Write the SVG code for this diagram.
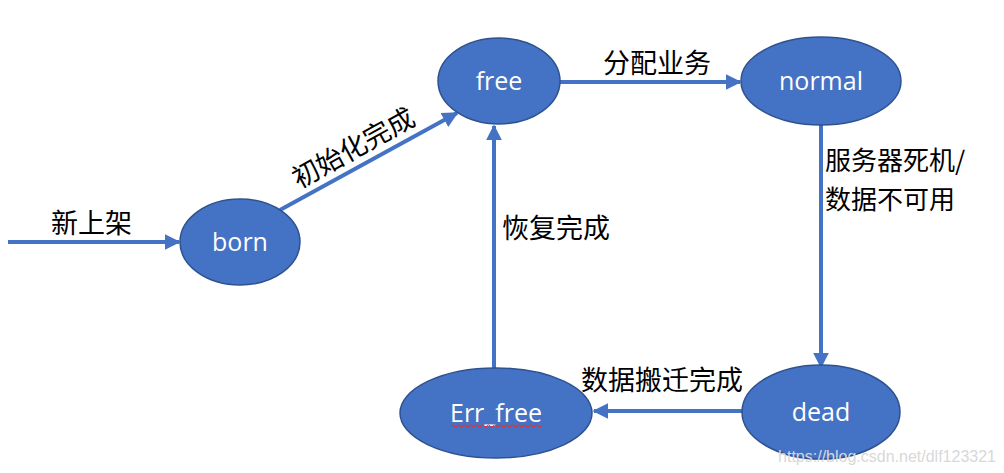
<svg xmlns="http://www.w3.org/2000/svg" width="1004" height="473" viewBox="0 0 1004 473">
<defs>
<marker id="ah" viewBox="0 0 10 10" refX="9" refY="5" markerWidth="4" markerHeight="4" orient="auto" markerUnits="strokeWidth">
<path d="M0,0 L10,5 L0,10 z" fill="#4472C4"/>
</marker>
<style>
.node{fill:#4472C4;stroke:#2F528F;stroke-width:1.5}
.nt{font-family:"Open Sans","Liberation Sans",sans-serif;font-size:25px;fill:#fff;text-anchor:middle}
.lb{font-family:"Noto Sans CJK SC","Liberation Sans",sans-serif;font-size:27px;fill:#000}
.edge{stroke:#4472C4;stroke-width:4;fill:none;marker-end:url(#ah)}
</style>
</defs>
<rect width="1004" height="473" fill="#fff"/>
<g id="connectors">
<line class="edge" x1="8" y1="242" x2="179" y2="242"/>
<line class="edge" x1="280" y1="210" x2="457" y2="113"/>
<line class="edge" x1="560" y1="82" x2="740" y2="82"/>
<line class="edge" x1="821" y1="125" x2="821" y2="367"/>
<line class="edge" x1="742" y1="411" x2="594" y2="411"/>
<line class="edge" x1="494" y1="368" x2="494" y2="126"/>
</g>
<g id="labels">
<text class="lb" x="51" y="233">新上架</text>
<text class="lb" transform="translate(299,189) rotate(-29)">初始化完成</text>
<text class="lb" x="603" y="73">分配业务</text>
<text class="lb" x="825" y="170" style="font-size:26px">服务器死机/</text>
<text class="lb" x="825" y="209" style="font-size:26px">数据不可用</text>
<text class="lb" x="502" y="238">恢复完成</text>
<text class="lb" x="581" y="390">数据搬迁完成</text>
</g>
<g id="born">
<ellipse class="node" cx="240" cy="242" rx="60" ry="43"/>
<text class="nt" x="240" y="251">born</text>
</g>
<g id="free">
<ellipse class="node" cx="499" cy="81" rx="61" ry="43"/>
<text class="nt" x="499" y="90">free</text>
</g>
<g id="normal">
<ellipse class="node" cx="821" cy="81" rx="80" ry="44"/>
<text class="nt" x="821" y="90">normal</text>
</g>
<g id="dead">
<ellipse class="node" cx="821" cy="412" rx="79" ry="47"/>
<text class="nt" x="821" y="421">dead</text>
</g>
<g id="Err_free">
<ellipse class="node" cx="496" cy="413" rx="96" ry="45"/>
<text class="nt" x="496" y="422">Err_free</text>
<path d="M451,426 q1.5,-2 3,0 t3,0 t3,0 t3,0 t3,0 t3,0 t3,0 t3,0 t3,0 t3,0 t3,0 t3,0 t3,0 t3,0 t3,0 t3,0 t3,0 t3,0 t3,0 t3,0 t3,0 t3,0 t3,0 t3,0 t3,0 t3,0 t3,0 t3,0 t3,0 t3,0" fill="none" stroke="#e03030" stroke-width="1"/>
</g>
<text x="996" y="462" font-family="Liberation Sans, sans-serif" font-size="16" fill="#d8d8d8" text-anchor="end">https://blog.csdn.net/dlf123321</text>
</svg>
